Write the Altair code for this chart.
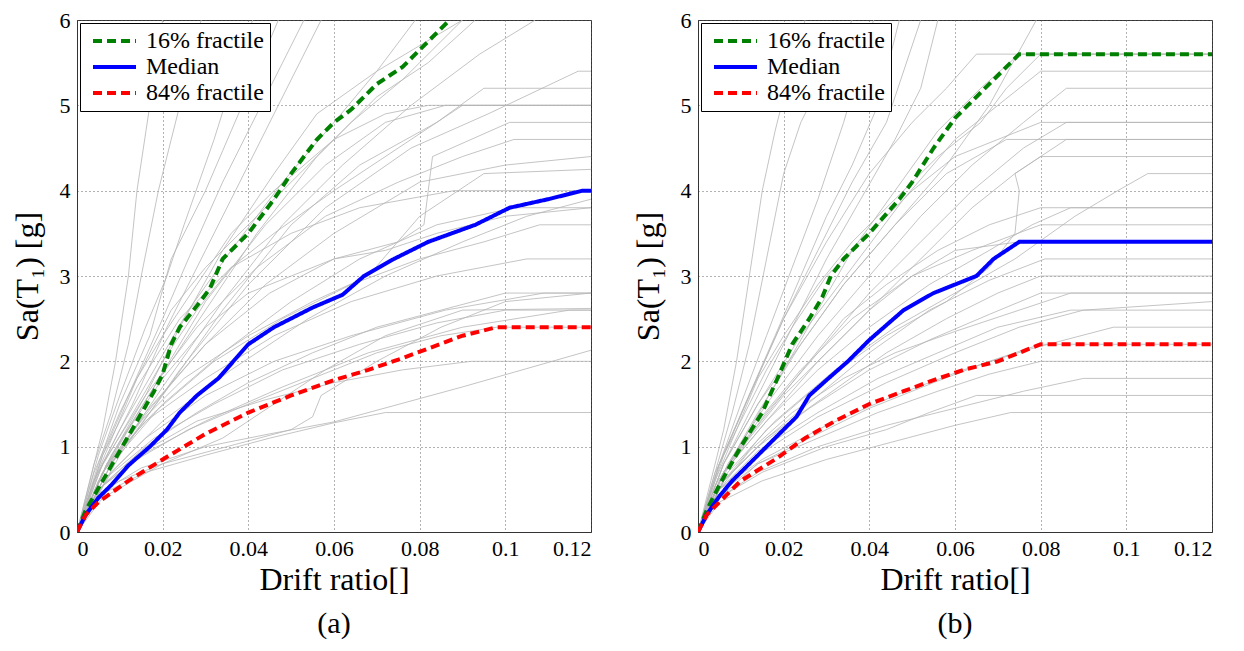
import altair as alt
import pandas as pd

# ---------------- Panel (a) data ----------------
A_P16_X = [0, 0.002, 0.006, 0.010, 0.014, 0.018, 0.020, 0.022, 0.024, 0.028, 0.031, 0.034, 0.040, 0.046, 0.050, 0.056, 0.060, 0.064, 0.070, 0.076, 0.080, 0.087]
A_P16_Y = [0, 0.25, 0.6, 0.95, 1.3, 1.65, 1.85, 2.2, 2.4, 2.65, 2.85, 3.2, 3.5, 3.9, 4.2, 4.6, 4.8, 4.95, 5.25, 5.45, 5.65, 6.0]
A_MED_X = [0, 0.002, 0.005, 0.008, 0.012, 0.017, 0.021, 0.024, 0.028, 0.033, 0.040, 0.046, 0.055, 0.062, 0.067, 0.074, 0.082, 0.093, 0.101, 0.110, 0.118, 0.120]
A_MED_Y = [0, 0.2, 0.4, 0.55, 0.78, 1.0, 1.2, 1.4, 1.6, 1.8, 2.2, 2.4, 2.63, 2.78, 3.0, 3.2, 3.4, 3.6, 3.8, 3.9, 4.0, 4.0]
A_P84_X = [0, 0.002, 0.005, 0.012, 0.020, 0.030, 0.040, 0.050, 0.060, 0.068, 0.075, 0.082, 0.090, 0.098, 0.120]
A_P84_Y = [0, 0.2, 0.35, 0.6, 0.85, 1.15, 1.4, 1.6, 1.78, 1.9, 2.02, 2.15, 2.3, 2.4, 2.4]

A_GRAY = [
    [(0, 0), (0.003, 0.6), (0.006, 1.2), (0.009, 2.0), (0.012, 3.0), (0.014, 4.0), (0.017, 5.0), (0.020, 6.0)],
    [(0, 0), (0.004, 0.8), (0.008, 1.4), (0.012, 2.2), (0.015, 3.0), (0.019, 4.0), (0.022, 4.6), (0.025, 5.2), (0.029, 6.0)],
    [(0, 0), (0.005, 0.9), (0.010, 1.6), (0.016, 2.4), (0.021, 3.0), (0.025, 3.6), (0.032, 4.6), (0.037, 5.4), (0.041, 6.0)],
    [(0, 0), (0.005, 0.8), (0.010, 1.5), (0.017, 2.3), (0.022, 3.2), (0.030, 4.0), (0.036, 4.7), (0.042, 5.4), (0.047, 6.0)],
    [(0, 0), (0.006, 0.9), (0.012, 1.6), (0.020, 2.5), (0.026, 3.2), (0.034, 4.1), (0.042, 4.9), (0.048, 5.5), (0.053, 6.0)],
    [(0, 0), (0.006, 0.8), (0.013, 1.5), (0.021, 2.4), (0.030, 3.3), (0.038, 4.1), (0.046, 4.9), (0.052, 5.5), (0.057, 6.0)],
    [(0, 0), (0.007, 0.8), (0.016, 1.6), (0.024, 2.4), (0.034, 3.3), (0.046, 4.2), (0.056, 4.9), (0.070, 5.4), (0.090, 6.0)],
    [(0, 0), (0.008, 0.9), (0.018, 1.7), (0.030, 2.6), (0.042, 3.5), (0.056, 4.4), (0.070, 5.1), (0.082, 5.5), (0.093, 6.0)],
    [(0, 0), (0.008, 0.8), (0.020, 1.7), (0.034, 2.7), (0.048, 3.6), (0.062, 4.3), (0.078, 5.0), (0.094, 5.6), (0.107, 6.0)],
    [(0, 0), (0.010, 0.9), (0.024, 1.9), (0.040, 2.9), (0.058, 3.8), (0.078, 4.5), (0.096, 4.9), (0.117, 5.4), (0.120, 5.4)],
    [(0, 0), (0.008, 0.8), (0.020, 1.6), (0.034, 2.6), (0.050, 3.6), (0.066, 4.3), (0.084, 4.8), (0.095, 5.2), (0.120, 5.2)],
    [(0, 0), (0.007, 0.8), (0.018, 1.7), (0.030, 2.7), (0.044, 3.6), (0.058, 4.3), (0.072, 4.8), (0.086, 5.0), (0.120, 5.0)],
    [(0, 0), (0.006, 0.7), (0.016, 1.4), (0.030, 2.2), (0.045, 2.8), (0.060, 3.2), (0.075, 3.4), (0.081, 3.6), (0.083, 4.4), (0.101, 4.8), (0.120, 4.8)],
    [(0, 0), (0.006, 0.8), (0.016, 1.6), (0.028, 2.4), (0.042, 3.1), (0.058, 3.7), (0.075, 4.1), (0.090, 4.4), (0.102, 4.6), (0.120, 4.6)],
    [(0, 0), (0.007, 0.8), (0.018, 1.5), (0.030, 2.2), (0.044, 2.9), (0.060, 3.5), (0.080, 4.1), (0.100, 4.3), (0.120, 4.4)],
    [(0, 0), (0.006, 0.9), (0.014, 1.7), (0.024, 2.5), (0.036, 3.1), (0.050, 3.5), (0.066, 3.8), (0.088, 4.0), (0.120, 4.0)],
    [(0, 0), (0.008, 0.8), (0.020, 1.5), (0.034, 2.1), (0.050, 2.7), (0.066, 3.2), (0.084, 3.6), (0.102, 3.8), (0.120, 3.8)],
    [(0, 0), (0.008, 0.7), (0.020, 1.3), (0.036, 1.9), (0.054, 2.5), (0.072, 3.0), (0.090, 3.4), (0.105, 3.7), (0.120, 3.9)],
    [(0, 0), (0.007, 0.8), (0.018, 1.4), (0.032, 2.0), (0.048, 2.5), (0.064, 2.9), (0.080, 3.2), (0.095, 3.4), (0.108, 3.6), (0.120, 3.6)],
    [(0, 0), (0.006, 0.7), (0.016, 1.3), (0.030, 1.8), (0.046, 2.3), (0.064, 2.7), (0.084, 3.0), (0.105, 3.2), (0.120, 3.2)],
    [(0, 0), (0.006, 0.6), (0.016, 1.1), (0.030, 1.6), (0.046, 2.0), (0.064, 2.3), (0.086, 2.6), (0.109, 2.8), (0.120, 2.8)],
    [(0, 0), (0.006, 0.6), (0.018, 1.1), (0.032, 1.5), (0.048, 1.9), (0.066, 2.2), (0.084, 2.45), (0.100, 2.6), (0.120, 2.6)],
    [(0, 0), (0.005, 0.5), (0.015, 0.9), (0.030, 1.3), (0.048, 1.7), (0.068, 2.1), (0.090, 2.4), (0.115, 2.6), (0.120, 2.6)],
    [(0, 0), (0.005, 0.5), (0.014, 0.9), (0.028, 1.3), (0.044, 1.55), (0.060, 1.75), (0.076, 1.9), (0.092, 2.0), (0.120, 2.0)],
    [(0, 0), (0.005, 0.45), (0.015, 0.75), (0.030, 1.0), (0.045, 1.15), (0.060, 1.29), (0.090, 1.7), (0.120, 2.13)],
    [(0, 0), (0.006, 0.45), (0.016, 0.7), (0.030, 0.9), (0.045, 1.1), (0.060, 1.28), (0.072, 1.4), (0.120, 1.4)],
    [(0, 0), (0.006, 0.4), (0.020, 0.8), (0.035, 1.0), (0.050, 1.2), (0.055, 1.35), (0.057, 1.6), (0.070, 2.0), (0.085, 2.4), (0.100, 2.7), (0.120, 2.8)],
    [(0, 0), (0.006, 0.7), (0.015, 1.3), (0.025, 1.8), (0.040, 2.3), (0.055, 2.7), (0.068, 3.0), (0.080, 3.7), (0.095, 4.2), (0.120, 4.25)],
    [(0, 0), (0.005, 0.7), (0.012, 1.3), (0.020, 2.0), (0.028, 2.6), (0.036, 3.1), (0.046, 3.5), (0.060, 4.0), (0.078, 4.6), (0.090, 5.0), (0.120, 5.0)],
    [(0, 0), (0.004, 0.7), (0.010, 1.4), (0.016, 2.0), (0.022, 2.6), (0.030, 3.1), (0.040, 3.6), (0.052, 4.2), (0.064, 4.8), (0.076, 5.3), (0.088, 5.9), (0.090, 6.0)],
    [(0, 0), (0.004, 0.6), (0.009, 1.2), (0.014, 1.8), (0.020, 2.3), (0.028, 2.9), (0.036, 3.5), (0.046, 4.0), (0.060, 4.6), (0.072, 4.9), (0.082, 5.0), (0.120, 5.0)],
    [(0, 0), (0.005, 0.6), (0.012, 1.2), (0.020, 1.8), (0.030, 2.4), (0.040, 2.8), (0.050, 3.0), (0.060, 3.2), (0.072, 3.3), (0.084, 3.5), (0.100, 3.7), (0.120, 3.8)],
    [(0, 0), (0.006, 0.55), (0.016, 1.0), (0.028, 1.4), (0.040, 1.75), (0.055, 2.1), (0.070, 2.4), (0.085, 2.6), (0.100, 2.8), (0.120, 2.8)],
    [(0, 0), (0.005, 0.5), (0.014, 0.85), (0.026, 1.2), (0.040, 1.5), (0.055, 1.8), (0.070, 2.1), (0.085, 2.3), (0.098, 2.4), (0.120, 2.4)],
    [(0, 0), (0.004, 0.4), (0.010, 0.6), (0.020, 0.8), (0.034, 1.1), (0.046, 1.5), (0.058, 1.9), (0.072, 2.3), (0.090, 2.6), (0.120, 2.62)],
    [(0, 0), (0.004, 0.6), (0.010, 1.2), (0.018, 1.9), (0.026, 2.6), (0.036, 3.3), (0.048, 4.1), (0.060, 4.8), (0.070, 5.4), (0.079, 6.0)],
]

# ---------------- Panel (b) data ----------------
B_P16_X = [0, 0.002, 0.005, 0.010, 0.015, 0.019, 0.022, 0.026, 0.029, 0.031, 0.034, 0.040, 0.047, 0.050, 0.055, 0.060, 0.065, 0.070, 0.075, 0.120]
B_P16_Y = [0, 0.25, 0.55, 1.0, 1.4, 1.85, 2.2, 2.5, 2.75, 3.0, 3.2, 3.5, 3.9, 4.1, 4.5, 4.85, 5.1, 5.35, 5.6, 5.6]
B_MED_X = [0, 0.002, 0.005, 0.008, 0.012, 0.016, 0.020, 0.023, 0.026, 0.030, 0.035, 0.040, 0.048, 0.055, 0.060, 0.065, 0.069, 0.075, 0.120]
B_MED_Y = [0, 0.2, 0.42, 0.6, 0.8, 1.0, 1.2, 1.35, 1.6, 1.78, 2.0, 2.25, 2.6, 2.8, 2.9, 3.0, 3.2, 3.4, 3.4]
B_P84_X = [0, 0.002, 0.005, 0.010, 0.018, 0.025, 0.032, 0.040, 0.048, 0.055, 0.062, 0.070, 0.075, 0.080, 0.120]
B_P84_Y = [0, 0.2, 0.35, 0.6, 0.85, 1.1, 1.3, 1.5, 1.65, 1.78, 1.9, 2.0, 2.1, 2.2, 2.2]

B_GRAY = [
    [(0, 0), (0.003, 0.6), (0.006, 1.2), (0.009, 2.0), (0.012, 3.0), (0.015, 4.0), (0.018, 4.7), (0.021, 5.3), (0.025, 6.0)],
    [(0, 0), (0.004, 0.7), (0.008, 1.4), (0.012, 2.2), (0.016, 3.2), (0.020, 4.2), (0.024, 4.8), (0.030, 5.4), (0.036, 6.0)],
    [(0, 0), (0.005, 0.8), (0.010, 1.5), (0.016, 2.3), (0.022, 3.1), (0.028, 3.9), (0.034, 4.8), (0.041, 6.0)],
    [(0, 0), (0.005, 0.8), (0.011, 1.5), (0.018, 2.3), (0.024, 3.0), (0.030, 3.7), (0.036, 4.3), (0.042, 5.0), (0.047, 6.0)],
    [(0, 0), (0.006, 0.9), (0.012, 1.6), (0.020, 2.5), (0.028, 3.3), (0.036, 4.1), (0.044, 4.8), (0.052, 6.0)],
    [(0, 0), (0.006, 0.8), (0.014, 1.6), (0.022, 2.4), (0.030, 3.2), (0.038, 3.9), (0.046, 4.6), (0.052, 5.2), (0.056, 6.0)],
    [(0, 0), (0.005, 0.8), (0.012, 1.6), (0.020, 2.5), (0.030, 3.4), (0.040, 4.2), (0.050, 4.8), (0.058, 5.2), (0.065, 5.6), (0.120, 5.6)],
    [(0, 0), (0.006, 0.7), (0.014, 1.4), (0.024, 2.2), (0.034, 2.9), (0.046, 3.6), (0.058, 4.3), (0.068, 5.0), (0.079, 6.0)],
    [(0, 0), (0.005, 0.6), (0.012, 1.2), (0.020, 1.9), (0.028, 2.6), (0.036, 3.3), (0.046, 4.0), (0.056, 4.7), (0.066, 5.2), (0.075, 5.6), (0.120, 5.6)],
    [(0, 0), (0.006, 0.8), (0.014, 1.5), (0.024, 2.3), (0.036, 3.1), (0.048, 3.9), (0.060, 4.6), (0.070, 5.0), (0.080, 5.4), (0.120, 5.4)],
    [(0, 0), (0.007, 0.8), (0.016, 1.5), (0.028, 2.3), (0.040, 3.0), (0.052, 3.7), (0.064, 4.3), (0.076, 4.8), (0.086, 5.2), (0.120, 5.2)],
    [(0, 0), (0.006, 0.7), (0.016, 1.4), (0.028, 2.1), (0.040, 2.8), (0.052, 3.4), (0.064, 4.0), (0.076, 4.5), (0.086, 4.8), (0.120, 4.8)],
    [(0, 0), (0.006, 0.8), (0.014, 1.5), (0.024, 2.2), (0.034, 2.9), (0.046, 3.6), (0.058, 4.2), (0.072, 4.6), (0.120, 4.6)],
    [(0, 0), (0.006, 0.7), (0.016, 1.3), (0.028, 2.0), (0.040, 2.6), (0.052, 3.2), (0.064, 3.8), (0.074, 4.2), (0.086, 4.6), (0.120, 4.6)],
    [(0, 0), (0.006, 0.6), (0.016, 1.2), (0.030, 1.8), (0.044, 2.3), (0.058, 2.7), (0.068, 3.1), (0.074, 3.5), (0.075, 4.0), (0.074, 4.2), (0.080, 4.4), (0.120, 4.4)],
    [(0, 0), (0.007, 0.7), (0.018, 1.3), (0.032, 1.9), (0.046, 2.4), (0.060, 2.8), (0.074, 3.2), (0.088, 3.7), (0.098, 4.0), (0.105, 4.2), (0.120, 4.2)],
    [(0, 0), (0.006, 0.7), (0.016, 1.3), (0.028, 1.9), (0.040, 2.4), (0.054, 2.9), (0.068, 3.3), (0.078, 3.6), (0.087, 3.8), (0.120, 3.8)],
    [(0, 0), (0.006, 0.7), (0.014, 1.3), (0.024, 1.9), (0.036, 2.5), (0.050, 3.0), (0.064, 3.3), (0.080, 3.6), (0.120, 3.6)],
    [(0, 0), (0.006, 0.6), (0.016, 1.1), (0.028, 1.6), (0.040, 2.1), (0.054, 2.6), (0.068, 2.95), (0.081, 3.2), (0.120, 3.2)],
    [(0, 0), (0.006, 0.6), (0.016, 1.1), (0.030, 1.6), (0.044, 2.1), (0.058, 2.5), (0.070, 2.8), (0.080, 3.0), (0.120, 3.0)],
    [(0, 0), (0.005, 0.55), (0.014, 1.0), (0.026, 1.45), (0.040, 1.9), (0.054, 2.25), (0.068, 2.55), (0.080, 2.8), (0.120, 2.8)],
    [(0, 0), (0.005, 0.5), (0.014, 0.95), (0.028, 1.4), (0.042, 1.8), (0.056, 2.1), (0.070, 2.4), (0.087, 2.6), (0.120, 2.6)],
    [(0, 0), (0.005, 0.5), (0.014, 0.9), (0.028, 1.35), (0.044, 1.75), (0.060, 2.1), (0.075, 2.4), (0.090, 2.6), (0.120, 2.7)],
    [(0, 0), (0.005, 0.5), (0.015, 0.85), (0.030, 1.25), (0.046, 1.6), (0.062, 1.9), (0.078, 2.15), (0.097, 2.4), (0.120, 2.4)],
    [(0, 0), (0.005, 0.4), (0.014, 0.8), (0.026, 1.1), (0.040, 1.45), (0.055, 1.75), (0.068, 2.0), (0.080, 2.2), (0.120, 2.2)],
    [(0, 0), (0.005, 0.45), (0.014, 0.8), (0.028, 1.1), (0.042, 1.4), (0.056, 1.65), (0.068, 1.85), (0.080, 2.0), (0.120, 2.0)],
    [(0, 0), (0.005, 0.4), (0.014, 0.7), (0.028, 1.0), (0.044, 1.25), (0.060, 1.45), (0.076, 1.65), (0.090, 1.8), (0.120, 1.8)],
    [(0, 0), (0.005, 0.4), (0.015, 0.7), (0.030, 1.0), (0.044, 1.2), (0.054, 1.4), (0.065, 1.6), (0.120, 1.6)],
    [(0, 0), (0.005, 0.35), (0.015, 0.6), (0.030, 0.85), (0.045, 1.05), (0.060, 1.25), (0.073, 1.4), (0.120, 1.4)],
    [(0, 0), (0.004, 0.7), (0.010, 1.3), (0.016, 1.9), (0.022, 2.4), (0.030, 3.0), (0.040, 3.5), (0.050, 4.0), (0.060, 4.4), (0.070, 4.6), (0.080, 4.8), (0.120, 4.8)],
    [(0, 0), (0.004, 0.6), (0.009, 1.2), (0.014, 1.8), (0.020, 2.3), (0.028, 2.9), (0.036, 3.4), (0.046, 3.9), (0.056, 4.4), (0.066, 4.8), (0.072, 5.2), (0.080, 5.6), (0.120, 5.6)],
    [(0, 0), (0.005, 0.6), (0.012, 1.1), (0.020, 1.6), (0.030, 2.1), (0.040, 2.6), (0.050, 3.0), (0.060, 3.3), (0.075, 3.4), (0.120, 3.4)],
    [(0, 0), (0.005, 0.5), (0.012, 0.95), (0.022, 1.4), (0.034, 1.8), (0.046, 2.1), (0.060, 2.35), (0.075, 2.6), (0.087, 2.8), (0.120, 2.8)],
    [(0, 0), (0.004, 0.55), (0.010, 1.0), (0.018, 1.5), (0.026, 2.0), (0.034, 2.5), (0.044, 2.9), (0.056, 3.3), (0.068, 3.6), (0.080, 3.8), (0.120, 3.8)],
]

SERIES = ["16% fractile", "Median", "84% fractile"]
SERIES_COLORS = ["#008000", "#0000ff", "#ff0000"]
SERIES_DASH = [[9, 5], [1, 0], [9, 5]]
X_TICKS = [0, 0.02, 0.04, 0.06, 0.08, 0.1, 0.12]
Y_TICKS = [0, 1, 2, 3, 4, 5, 6]
FONT = "Liberation Serif"


def gray_frame(curves):
    rows = []
    for ci, pts in enumerate(curves):
        for pi, (x, y) in enumerate(pts):
            rows.append({"curve": ci, "i": pi, "x": x, "y": y})
    return pd.DataFrame(rows)


def summary_frame(p16, med, p84):
    rows = []
    for name, (xs, ys) in zip(SERIES, [p16, med, p84]):
        for i, (x, y) in enumerate(zip(xs, ys)):
            rows.append({"series": name, "i": i, "x": x, "y": y})
    return pd.DataFrame(rows)


def panel(curves, p16, med, p84, caption):
    xscale = alt.Scale(domain=[0, 0.12], nice=False)
    yscale = alt.Scale(domain=[0, 6], nice=False)
    xaxis = alt.Axis(values=X_TICKS, format="~g", title="Drift ratio[]",
                     labelFont=FONT, titleFont=FONT)
    yaxis = alt.Axis(values=Y_TICKS, format="d", title="Sa(T\u2081) [g]",
                     labelFont=FONT, titleFont=FONT)
    gray = alt.Chart(gray_frame(curves)).mark_line(
        color="#b5b5b5", strokeWidth=0.8, clip=True
    ).encode(
        x=alt.X("x:Q", scale=xscale, axis=xaxis),
        y=alt.Y("y:Q", scale=yscale, axis=yaxis),
        detail="curve:N",
        order="i:Q",
    )
    leg = dict(
        title=None, orient="top-left", offset=3, strokeColor="black",
        fillColor="white", padding=6, labelFont=FONT, labelFontSize=24,
        labelColor="black", symbolType="M-1,0H7.6", symbolSize=100,
        symbolStrokeWidth=4, rowPadding=2, labelOffset=36, labelLimit=300,
        cornerRadius=0,
    )
    summ = alt.Chart(summary_frame(p16, med, p84)).mark_line(
        strokeWidth=4, clip=True
    ).encode(
        x=alt.X("x:Q", scale=xscale),
        y=alt.Y("y:Q", scale=yscale),
        color=alt.Color("series:N", scale=alt.Scale(domain=SERIES, range=SERIES_COLORS),
                        legend=alt.Legend(**leg)),
        strokeDash=alt.StrokeDash("series:N", scale=alt.Scale(domain=SERIES, range=SERIES_DASH),
                                  legend=alt.Legend(**leg)),
        order="i:Q",
    )
    return alt.layer(gray, summ).properties(
        width=514, height=512,
        title=alt.TitleParams(caption, orient="bottom", font=FONT, fontSize=30,
                              fontWeight="normal", color="black", offset=14,
                              anchor="middle", frame="group"),
    )


left = panel(A_GRAY, (A_P16_X, A_P16_Y), (A_MED_X, A_MED_Y), (A_P84_X, A_P84_Y), "(a)")
right = panel(B_GRAY, (B_P16_X, B_P16_Y), (B_MED_X, B_MED_Y), (B_P84_X, B_P84_Y), "(b)")

chart = alt.hconcat(left, right, spacing=39).resolve_scale(
    color="independent", strokeDash="independent"
).resolve_legend(
    color="independent", strokeDash="independent"
).properties(
    padding={"left": 2, "top": 0, "right": 0, "bottom": 0}
).configure(font=FONT).configure_axis(
    labelFont=FONT, titleFont=FONT, labelFontSize=22, titleFontSize=32,
    titleFontWeight="normal", labelColor="black", titleColor="black",
    domainColor="#333333", grid=True, gridDash=[1, 3], gridColor="#555555",
    gridOpacity=0.9, ticks=False, labelPadding=7,
).configure_axisX(titlePadding=5, labelPadding=6).configure_axisY(titlePadding=15).configure_legend(
    labelFont=FONT
).configure_view(
    stroke="#333333", strokeWidth=1
)

chart.save("out.html", embed_options={"renderer": "svg", "actions": False})
